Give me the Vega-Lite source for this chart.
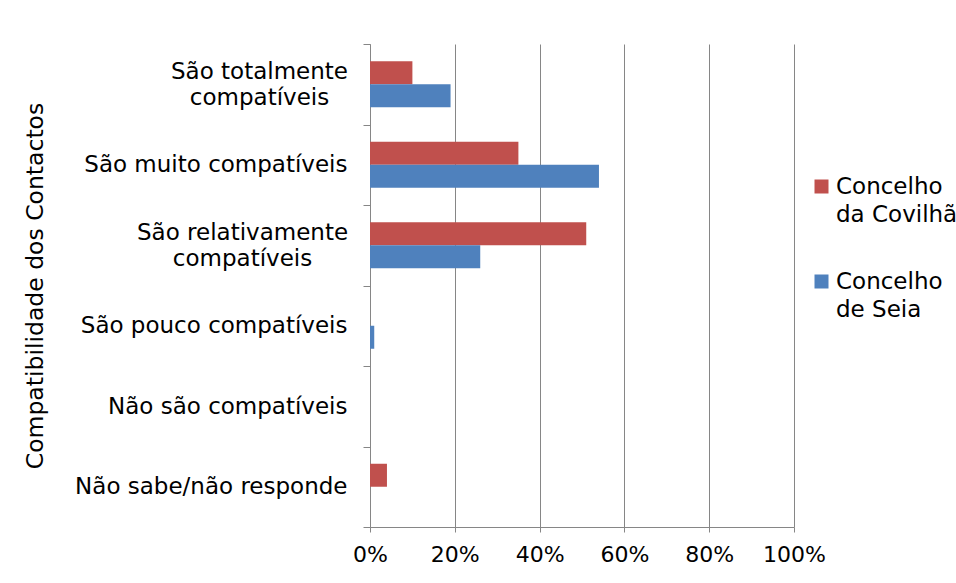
{
  "$schema": "https://vega.github.io/schema/vega-lite/v6.json",
  "width": 424,
  "height": 483,
  "autosize": {"type": "none"},
  "padding": {"left": 370, "top": 44, "right": 162, "bottom": 56},
  "background": "white",
  "config": {"view": {"stroke": null}, "font": "DejaVu Sans"},
  "data": {
    "values": [
      {"categoria": "São totalmente compatíveis", "concelho": "Concelho da Covilhã", "valor": 10},
      {"categoria": "São totalmente compatíveis", "concelho": "Concelho de Seia", "valor": 19},
      {"categoria": "São muito compatíveis", "concelho": "Concelho da Covilhã", "valor": 35},
      {"categoria": "São muito compatíveis", "concelho": "Concelho de Seia", "valor": 54},
      {"categoria": "São relativamente compatíveis", "concelho": "Concelho da Covilhã", "valor": 51},
      {"categoria": "São relativamente compatíveis", "concelho": "Concelho de Seia", "valor": 26},
      {"categoria": "São pouco compatíveis", "concelho": "Concelho da Covilhã", "valor": 0},
      {"categoria": "São pouco compatíveis", "concelho": "Concelho de Seia", "valor": 1},
      {"categoria": "Não são compatíveis", "concelho": "Concelho da Covilhã", "valor": 0},
      {"categoria": "Não são compatíveis", "concelho": "Concelho de Seia", "valor": 0},
      {"categoria": "Não sabe/não responde", "concelho": "Concelho da Covilhã", "valor": 4},
      {"categoria": "Não sabe/não responde", "concelho": "Concelho de Seia", "valor": 0}
    ]
  },
  "mark": {"type": "bar"},
  "encoding": {
    "y": {
      "field": "categoria",
      "type": "nominal",
      "sort": ["São totalmente compatíveis", "São muito compatíveis", "São relativamente compatíveis", "São pouco compatíveis", "Não são compatíveis", "Não sabe/não responde"],
      "scale": {"paddingInner": 0, "paddingOuter": 0},
      "title": "Compatibilidade dos Contactos",
      "axis": {
        "tickBand": "extent",
        "domainColor": "#868686",
        "tickColor": "#868686",
        "tickSize": 7,
        "labelPadding": {
          "condition": [
            {"test": "datum.value == 'São totalmente compatíveis'", "value": 104},
            {"test": "datum.value == 'São relativamente compatíveis'", "value": 121}
          ],
          "value": 16
        },
        "labelAlign": {
          "condition": {"test": "datum.value == 'São totalmente compatíveis' || datum.value == 'São relativamente compatíveis'", "value": "center"},
          "value": "right"
        },
        "labelOffset": {
          "condition": {"test": "datum.value == 'São totalmente compatíveis' || datum.value == 'São relativamente compatíveis'", "value": -13},
          "value": 0
        },
        "labelFontSize": 23,
        "labelColor": "black",
        "labelLimit": 0,
        "labelLineHeight": 26,
        "labelExpr": "datum.label == 'São totalmente compatíveis' ? ['São totalmente', 'compatíveis'] : datum.label == 'São relativamente compatíveis' ? ['São relativamente', 'compatíveis'] : datum.label",
        "titleFont": "DejaVu Sans",
        "titleFontSize": 23.5,
        "titleFontWeight": "normal",
        "titleColor": "black",
        "titleX": -328,
        "titleBaseline": "alphabetic",
        "grid": false
      }
    },
    "yOffset": {
      "field": "concelho",
      "sort": ["Concelho da Covilhã", "Concelho de Seia"],
      "scale": {"paddingInner": 0, "paddingOuter": 0.75}
    },
    "x": {
      "field": "valor",
      "type": "quantitative",
      "scale": {"domain": [0, 100]},
      "title": null,
      "axis": {
        "values": [0, 20, 40, 60, 80, 100],
        "labelExpr": "datum.value + '%'",
        "labelFlush": false,
        "grid": true,
        "gridColor": "#868686",
        "domainColor": "#868686",
        "tickColor": "#868686",
        "tickSize": 5,
        "labelPadding": 12,
        "labelFontSize": 22,
        "labelColor": "black"
      }
    },
    "color": {
      "field": "concelho",
      "type": "nominal",
      "scale": {"domain": ["Concelho da Covilhã", "Concelho de Seia"], "range": ["#C0504D", "#4F81BD"]},
      "legend": {
        "title": null,
        "orient": "none",
        "legendX": 440,
        "legendY": 131,
        "symbolType": "square",
        "symbolSize": 196,
        "symbolStrokeWidth": 0,
        "labelFontSize": 23,
        "labelColor": "black",
        "labelOffset": 3,
        "labelLimit": 0,
        "rowPadding": 43,
        "padding": 0,
        "labelExpr": "datum.label == 'Concelho da Covilhã' ? ['Concelho', 'da Covilhã'] : ['Concelho', 'de Seia']",
        "encode": {"labels": {"update": {"lineHeight": {"value": 28}}}}
      }
    }
  }
}
